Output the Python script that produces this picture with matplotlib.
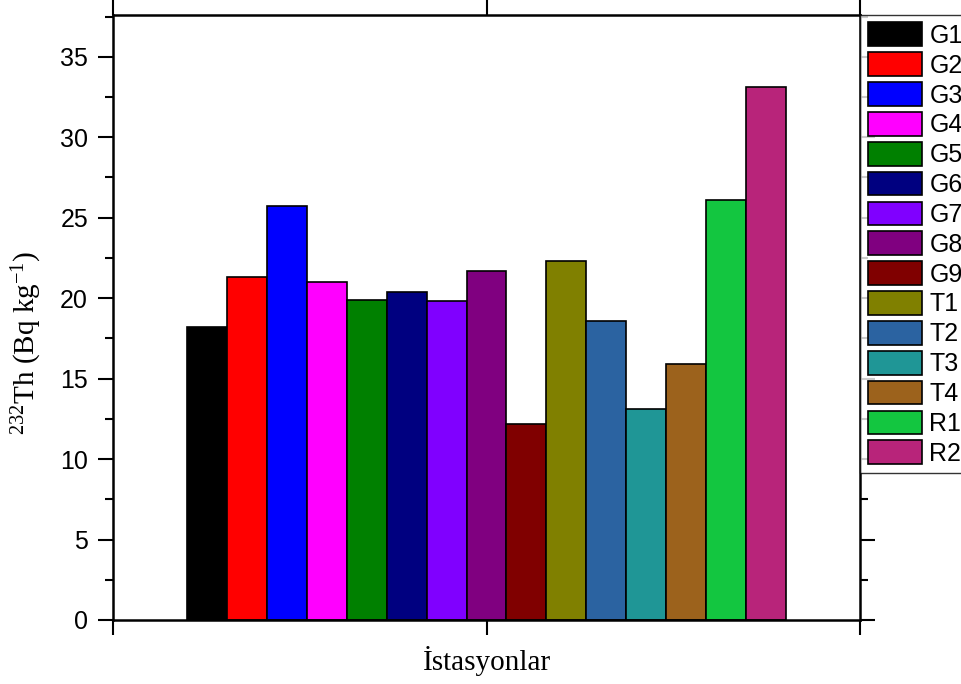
import numpy as np
import matplotlib
matplotlib.use('Agg')
from matplotlib import pyplot as plt
from matplotlib.ticker import MultipleLocator, FixedLocator, NullFormatter

stations = ['G1', 'G2', 'G3', 'G4', 'G5', 'G6', 'G7', 'G8', 'G9',
            'T1', 'T2', 'T3', 'T4', 'R1', 'R2']
th232 = [18.2, 21.3, 25.7, 21.0, 19.9, 20.4, 19.8, 21.7, 12.2,
         22.3, 18.6, 13.1, 15.9, 26.1, 33.1]
colors = ['#000000', '#ff0000', '#0000ff', '#ff00ff', '#008000', '#000080',
          '#8000ff', '#800080', '#800000', '#808000', '#2b63a1', '#1f9696',
          '#9c621c', '#13c640', '#b8247a']

plt.rcParams['font.family'] = ['Liberation Sans', 'DejaVu Sans']
plt.rcParams['mathtext.fontset'] = 'stix'

fig = plt.figure(figsize=(9.62, 6.84), dpi=100)
ax = fig.add_axes([0.1175, 0.0936, 0.7765, 0.8845])

x = np.arange(len(stations))
for i in range(len(stations)):
    ax.bar(x[i], th232[i], width=1.0, color=colors[i], edgecolor='black',
           linewidth=1.2, label=stations[i])

pad = 1.855
xlo, xhi = x[0] - 0.5 - pad, x[-1] + 0.5 + pad
ax.set_xlim(xlo, xhi)
ax.set_ylim(0, 37.6)

ax.xaxis.set_major_locator(FixedLocator([xlo, (xlo + xhi) / 2, xhi]))
ax.xaxis.set_major_formatter(NullFormatter())
ax.yaxis.set_major_locator(MultipleLocator(5))
ax.yaxis.set_minor_locator(MultipleLocator(2.5))

ax.tick_params(axis='both', which='major', direction='out', length=11, width=1.5,
               labelsize=18, pad=7, top=True, right=True)
ax.tick_params(axis='y', which='minor', direction='out', length=6, width=1.5,
               right=True)
ax.tick_params(axis='x', which='major', labelbottom=False)
for s in ax.spines.values():
    s.set_linewidth(1.8)

ax.set_xlabel('İstasyonlar', fontsize=21, family='Liberation Serif', labelpad=8)
ax.set_ylabel(r'$\mathregular{^{232}}$Th (Bq kg$\mathregular{^{-1}}$)',
              fontsize=21, family='Liberation Serif')
ax.yaxis.set_label_coords(-0.093, 0.458)

leg = ax.legend(loc='upper left', bbox_to_anchor=(1.0, 1.0), borderaxespad=0,
                fontsize=18, handlelength=2.17, handleheight=1.08,
                labelspacing=0.18, handletextpad=0.3, borderpad=0.3,
                frameon=True, fancybox=False, edgecolor='black')
leg.get_frame().set_linewidth(1.0)

fig.savefig('out.png', dpi=100)
